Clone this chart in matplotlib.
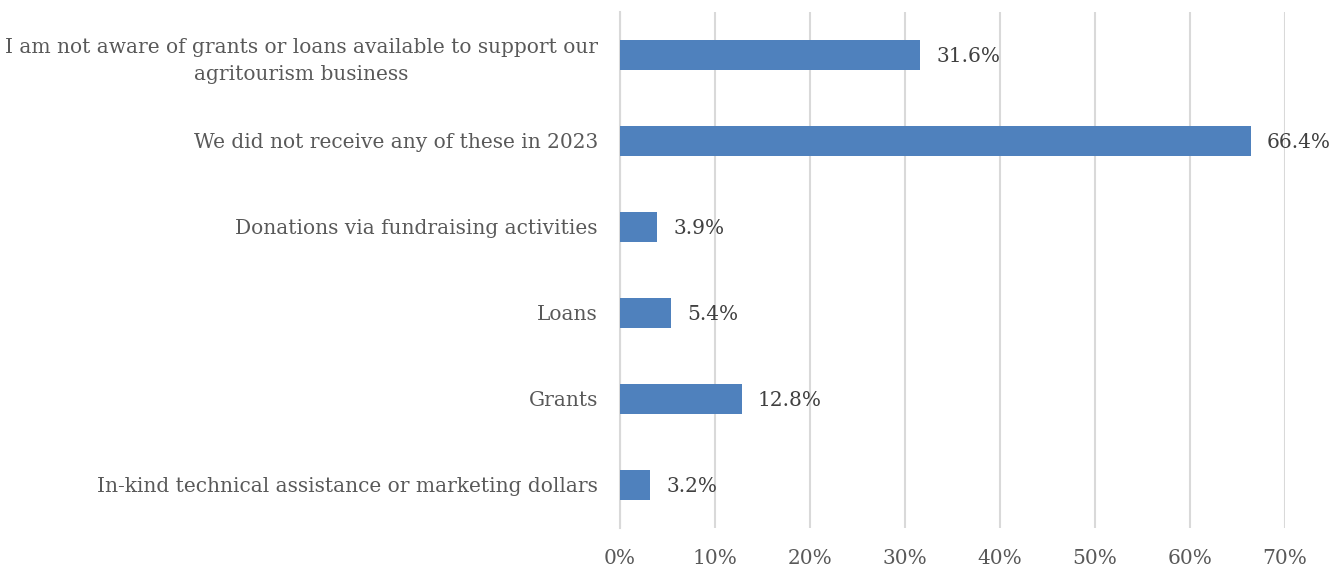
import matplotlib
matplotlib.use("Agg")
import matplotlib.pyplot as plt

categories = [
    "I am not aware of grants or loans available to support our\nagritourism business",
    "We did not receive any of these in 2023",
    "Donations via fundraising activities",
    "Loans",
    "Grants",
    "In-kind technical assistance or marketing dollars",
]
values = [31.6, 66.4, 3.9, 5.4, 12.8, 3.2]
xticks = [0, 10, 20, 30, 40, 50, 60, 70]
xtick_labels = [f"{t}%" for t in xticks]

plt.rcParams['font.family'] = ['DejaVu Serif']

fig = plt.figure(figsize=(13.42, 5.71), dpi=100)
ax = fig.add_axes([620/1342, 1-528/571, 665/1342, 516/571])

n = len(categories)
ypos = list(range(n))[::-1]
ax.barh(ypos, values, height=0.35, color='#4F81BD', zorder=3)
for y, v in zip(ypos, values):
    ax.text(v + 1.7, y, f"{v:.1f}%", va='center_baseline', ha='left', fontsize=14.5, color='#404040')

ax.set_xlim(0, 70)
ax.set_ylim(-0.5, n - 0.5)
ax.set_yticks(ypos)
ax.set_yticklabels(categories, fontsize=14.5, color='#595959', ha='right', multialignment='center',
                   linespacing=1.5)
ax.set_xticks(xticks)
ax.set_xticklabels(xtick_labels, fontsize=14.5, color='#595959')
ax.tick_params(axis='both', length=0)
ax.tick_params(axis='x', pad=15)
ax.tick_params(axis='y', pad=16)
ax.grid(axis='x', color='#D9D9D9', linewidth=1.5, zorder=0)
for s in ['top', 'right', 'bottom']:
    ax.spines[s].set_visible(False)
ax.spines['left'].set_color('#D9D9D9')
ax.spines['left'].set_linewidth(1.5)

fig.savefig("out.png", dpi=100)
